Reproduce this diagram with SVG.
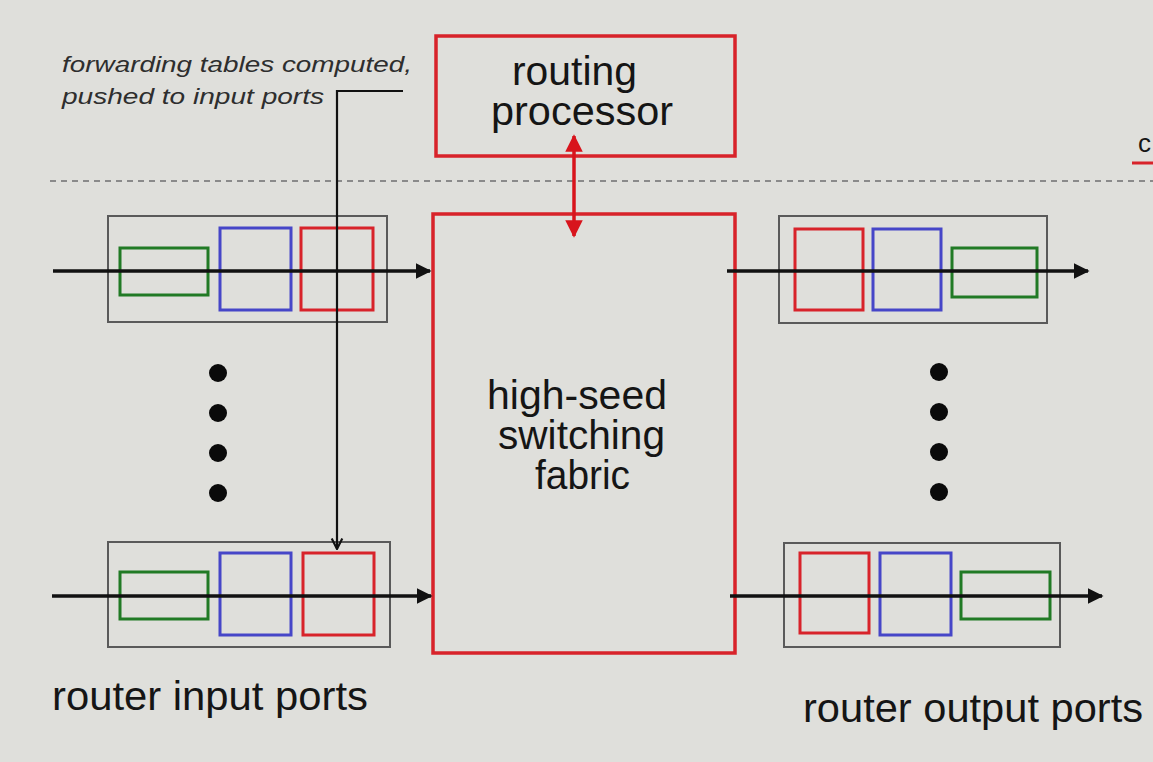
<svg xmlns="http://www.w3.org/2000/svg" width="1153" height="762" viewBox="0 0 1153 762">
<defs>
<style>
.bg{fill:#dfdfdb}
.txt{font-family:"Liberation Sans",Arial,sans-serif;fill:#151515}
.big{font-size:40px}
.note{font-size:22px;font-style:italic;fill:#2e2e2e}
.port{fill:none;stroke:#5a5a5a;stroke-width:2}
.r{fill:none;stroke:#d8232a;stroke-width:3}
.b{fill:none;stroke:#4646c8;stroke-width:3}
.g{fill:none;stroke:#217a25;stroke-width:3}
.redbox{fill:none;stroke:#d8232a;stroke-width:3.5}
.flow{stroke:#111;stroke-width:3.5;fill:none}
.dot{fill:#0a0a0a}
</style>
<marker id="ah" viewBox="0 0 10 10" refX="9" refY="5" markerWidth="4.5" markerHeight="4.5" orient="auto" markerUnits="strokeWidth">
<path d="M0,0 L10,5 L0,10 z" fill="#111"/>
</marker>
<marker id="ahv" viewBox="0 0 10 10" refX="9" refY="5" markerWidth="6" markerHeight="6" orient="auto" markerUnits="strokeWidth">
<path d="M1,1 L9,5 L1,9" fill="none" stroke="#111" stroke-width="1.6"/>
</marker>
<marker id="rah" viewBox="0 0 10 10" refX="9" refY="5" markerWidth="5" markerHeight="5" orient="auto-start-reverse" markerUnits="strokeWidth">
<path d="M0,0 L10,5 L0,10 z" fill="#d8141c"/>
</marker>
</defs>
<rect class="bg" x="0" y="0" width="1153" height="762"/>

<line x1="50" y1="181" x2="1153" y2="181" stroke="#8a8a8a" stroke-width="2" stroke-dasharray="6,5"/>
<text class="txt" x="1138" y="152" font-size="26">c</text>
<line x1="1132" y1="163" x2="1153" y2="163" stroke="#d8232a" stroke-width="3"/>

<g id="note">
<text class="txt note" x="62" y="72" textLength="350" lengthAdjust="spacingAndGlyphs">forwarding tables computed,</text>
<text class="txt note" x="62" y="104" textLength="262" lengthAdjust="spacingAndGlyphs">pushed to input ports</text>
</g>

<g id="routing-processor">
<rect class="redbox" x="436" y="36" width="299" height="120"/>
<text class="txt big" x="512" y="85" textLength="125" lengthAdjust="spacingAndGlyphs">routing</text>
<text class="txt big" x="491" y="125" textLength="182" lengthAdjust="spacingAndGlyphs">processor</text>
</g>

<g id="switching-fabric">
<rect class="redbox" x="433" y="214" width="302" height="439"/>
<text class="txt big" x="487" y="409" textLength="180" lengthAdjust="spacingAndGlyphs">high-seed</text>
<text class="txt big" x="498" y="449" textLength="167" lengthAdjust="spacingAndGlyphs">switching</text>
<text class="txt big" x="535" y="489" textLength="95" lengthAdjust="spacingAndGlyphs">fabric</text>
</g>

<g id="input-port-top">
<rect class="port" x="108" y="216" width="279" height="106"/>
<rect class="g" x="120" y="248" width="88" height="47"/>
<rect class="b" x="220" y="228" width="71" height="82"/>
<rect class="r" x="301" y="228" width="72" height="82"/>
</g>

<g id="input-port-bottom">
<rect class="port" x="108" y="542" width="282" height="105"/>
<rect class="g" x="120" y="572" width="88" height="47"/>
<rect class="b" x="220" y="553" width="71" height="82"/>
<rect class="r" x="303" y="553" width="71" height="82"/>
</g>

<g id="output-port-top">
<rect class="port" x="779" y="216" width="268" height="107"/>
<rect class="r" x="795" y="229" width="68" height="81"/>
<rect class="b" x="873" y="229" width="68" height="81"/>
<rect class="g" x="952" y="248" width="85" height="49"/>
</g>

<g id="output-port-bottom">
<rect class="port" x="784" y="543" width="276" height="104"/>
<rect class="r" x="800" y="553" width="69" height="80"/>
<rect class="b" x="880" y="553" width="71" height="82"/>
<rect class="g" x="961" y="572" width="89" height="47"/>
</g>

<g id="dots-left">
<circle class="dot" cx="218" cy="373" r="9"/>
<circle class="dot" cx="218" cy="413" r="9"/>
<circle class="dot" cx="218" cy="453" r="9"/>
<circle class="dot" cx="218" cy="493" r="9"/>
</g>
<g id="dots-right">
<circle class="dot" cx="939" cy="372" r="9"/>
<circle class="dot" cx="939" cy="412" r="9"/>
<circle class="dot" cx="939" cy="452" r="9"/>
<circle class="dot" cx="939" cy="492" r="9"/>
</g>

<g id="labels">
<text class="txt big" x="52" y="710" textLength="316" lengthAdjust="spacingAndGlyphs">router input ports</text>
<text class="txt big" x="803" y="722" textLength="340" lengthAdjust="spacingAndGlyphs">router output ports</text>
</g>

<g id="connectors">
<line class="flow" x1="53" y1="271" x2="430" y2="271" marker-end="url(#ah)"/>
<line class="flow" x1="52" y1="596" x2="431" y2="596" marker-end="url(#ah)"/>
<line class="flow" x1="727" y1="271" x2="1088" y2="271" marker-end="url(#ah)"/>
<line class="flow" x1="730" y1="596" x2="1102" y2="596" marker-end="url(#ah)"/>
<polyline points="403,91 337,91 337,549" fill="none" stroke="#111" stroke-width="2.2" marker-end="url(#ahv)"/>
<line x1="574" y1="136" x2="574" y2="236" stroke="#d8141c" stroke-width="3.5" marker-start="url(#rah)" marker-end="url(#rah)"/>
</g>
</svg>
